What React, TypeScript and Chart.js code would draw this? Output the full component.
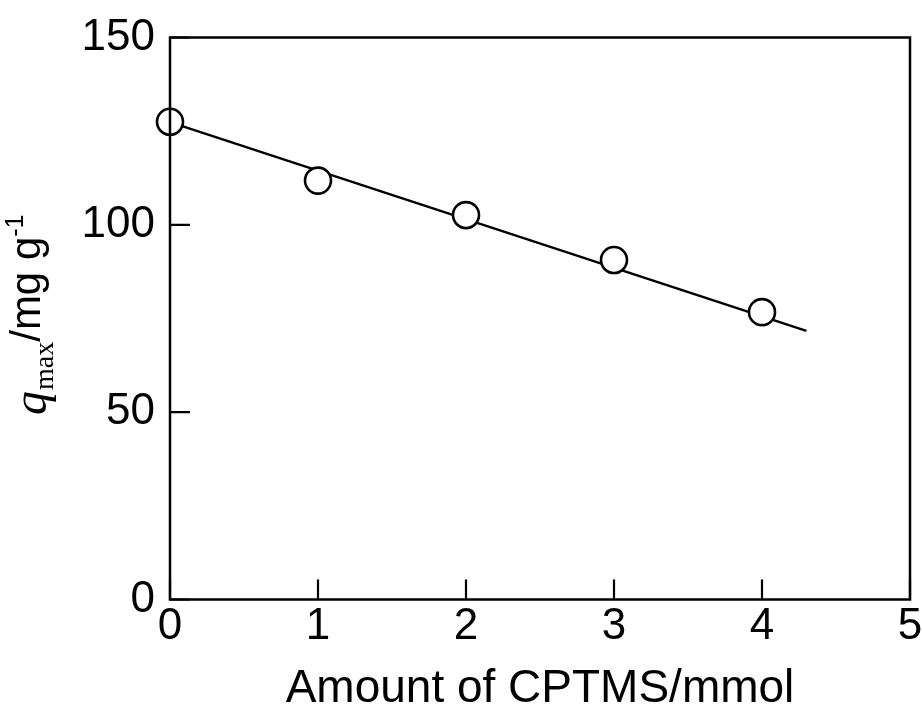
import React, { useEffect, useRef } from "react";
import { Chart, registerables } from "chart.js";

Chart.register(...registerables);

// Adsorption capacity vs. amount of CPTMS
const amounts = [0, 1, 2, 3, 4];
const qmax = [127.5, 111.8, 102.6, 90.6, 76.7];

// Linear fit drawn through the data
const fitX = [0, 4.3];
const fitY = [127.4, 71.7];

const xTicks = [0, 1, 2, 3, 4, 5];
const yTicks = [0, 50, 100, 150];

const SANS = "'Liberation Sans', Arial, Helvetica, sans-serif";
const SERIF = "'Liberation Serif', 'Times New Roman', serif";

const framePlugin = {
  id: "frameAndTitles",
  afterDraw(chart: any) {
    const { ctx, chartArea: a } = chart;
    const xs = chart.scales.x;
    const ys = chart.scales.y;
    ctx.save();
    ctx.strokeStyle = "#000";
    ctx.lineWidth = 2.5;
    ctx.strokeRect(a.left, a.top, a.right - a.left, a.bottom - a.top);

    // inward tick marks
    const tl = 20;
    ctx.lineWidth = 2.2;
    ctx.beginPath();
    xs.ticks.forEach((t: any) => {
      const px = xs.getPixelForValue(t.value);
      ctx.moveTo(px, a.bottom);
      ctx.lineTo(px, a.bottom - tl);
    });
    ys.ticks.forEach((t: any) => {
      const py = ys.getPixelForValue(t.value);
      ctx.moveTo(a.left, py);
      ctx.lineTo(a.left + tl, py);
    });
    ctx.stroke();

    // x axis title
    ctx.fillStyle = "#000";
    ctx.font = `46px ${SANS}`;
    ctx.textAlign = "center";
    ctx.textBaseline = "middle";
    ctx.fillText("Amount of CPTMS/mmol", (a.left + a.right) / 2, 689);

    // y axis title: q_max/mg g^-1
    ctx.translate(44, 0);
    ctx.rotate(-Math.PI / 2);
    ctx.textAlign = "left";
    ctx.textBaseline = "alphabetic";
    let x = -415;
    ctx.font = `italic 48px ${SERIF}`;
    ctx.fillText("q", x, 2);
    x += ctx.measureText("q").width + 1;
    ctx.font = `28px ${SERIF}`;
    ctx.fillText("max", x, 9);
    x += ctx.measureText("max").width;
    ctx.font = `42px ${SANS}`;
    ctx.fillText("/mg g", x, -4);
    x += ctx.measureText("/mg g").width;
    ctx.font = `25px ${SANS}`;
    ctx.fillText("-1", x, -21);
    ctx.restore();
  },
};

export default function App() {
  const ref = useRef<HTMLCanvasElement>(null);

  useEffect(() => {
    if (!ref.current) return;
    const chart = new Chart(ref.current, {
      type: "scatter",
      data: {
        datasets: [
          {
            data: amounts.map((v, i) => ({ x: v, y: qmax[i] })),
            showLine: false,
            pointRadius: 13,
            pointHoverRadius: 13,
            pointBorderWidth: 2.6,
            pointBackgroundColor: "#fff",
            pointBorderColor: "#000",
            clip: false,
            order: 0,
          },
          {
            data: fitX.map((v, i) => ({ x: v, y: fitY[i] })),
            showLine: true,
            pointRadius: 0,
            borderColor: "#000",
            borderWidth: 2.4,
            clip: false,
            order: 1,
          },
        ],
      },
      options: {
        animation: false,
        responsive: false,
        events: [],
        layout: { autoPadding: false, padding: { top: 37.5, right: 12, left: 0, bottom: 0 } },
        plugins: { legend: { display: false }, tooltip: { enabled: false } },
        scales: {
          x: {
            type: "linear",
            min: 0,
            max: 5,
            afterBuildTicks: (s: any) => {
              s.ticks = xTicks.map((v) => ({ value: v }));
            },
            afterFit: (s: any) => {
              s.height = 115.5;
              s.paddingLeft = 0;
              s.paddingRight = 0;
            },
            grid: { display: false, drawTicks: false },
            border: { display: false },
            ticks: {
              padding: 1,
              color: "#000",
              font: { family: SANS, size: 44 },
              maxRotation: 0,
            },
          },
          y: {
            type: "linear",
            min: 0,
            max: 150,
            afterBuildTicks: (s: any) => {
              s.ticks = yTicks.map((v) => ({ value: v }));
            },
            afterFit: (s: any) => {
              s.width = 170;
              s.paddingTop = 0;
              s.paddingBottom = 0;
            },
            grid: { display: false, drawTicks: false },
            border: { display: false },
            ticks: {
              padding: 15,
              color: "#000",
              font: { family: SANS, size: 44 },
            },
          },
        },
      },
      plugins: [framePlugin],
    });
    return () => chart.destroy();
  }, []);

  return (
    <div style={{ position: "fixed", left: 0, top: 0, width: 922, height: 715, background: "#fff" }}>
      <canvas ref={ref} width={922} height={715} />
    </div>
  );
}
